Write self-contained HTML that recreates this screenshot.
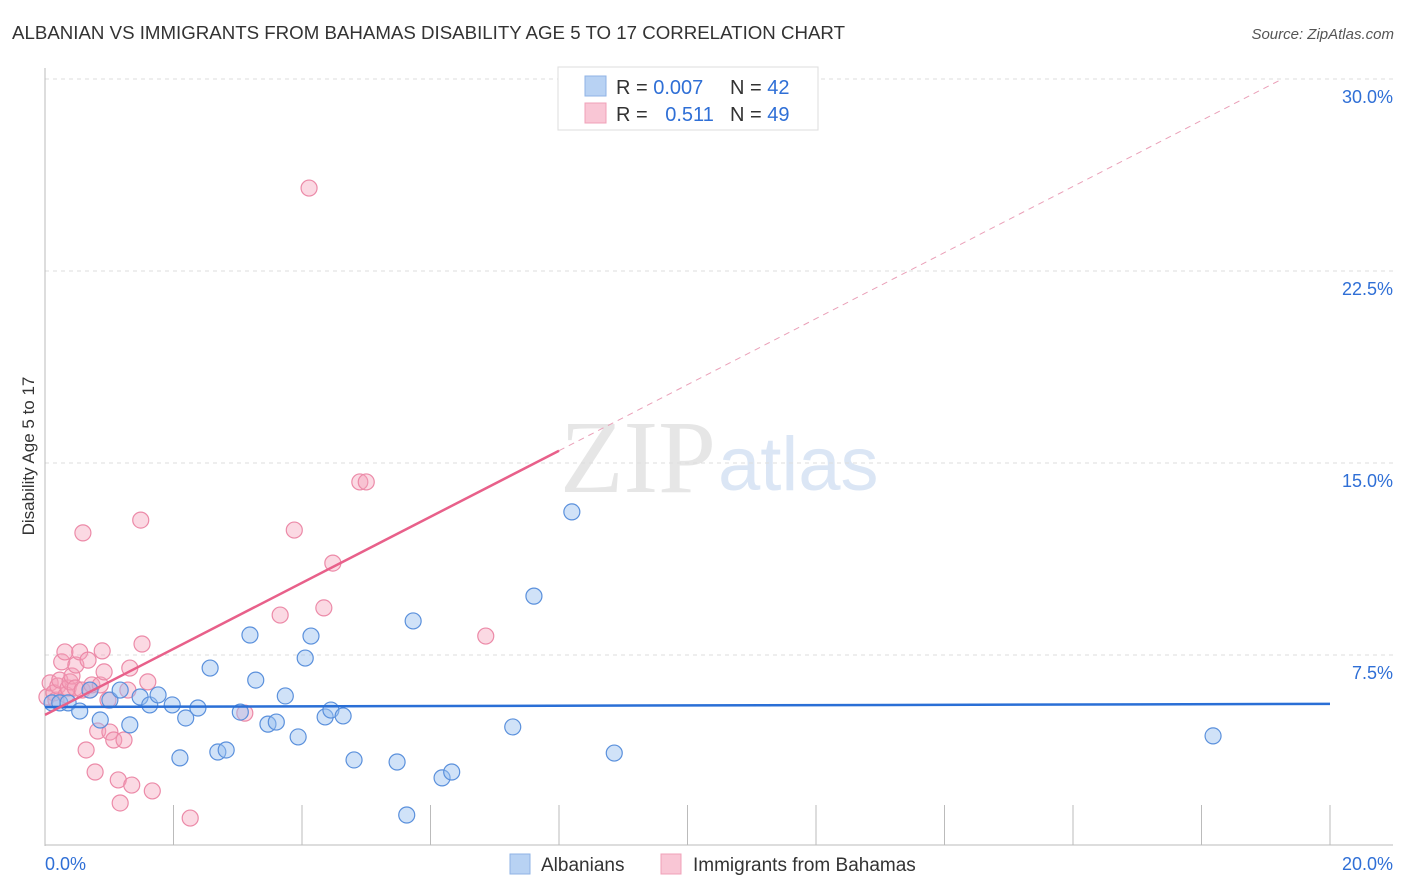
<!DOCTYPE html>
<html><head><meta charset="utf-8"><style>
body{margin:0;background:#fff;font-family:"Liberation Sans",sans-serif;}
#wrap{position:relative;width:1406px;height:892px;overflow:hidden;}
</style></head><body>
<div id="wrap">
<svg id="svg" width="1406" height="892" xmlns="http://www.w3.org/2000/svg">
<text x="12" y="39" font-size="18.5" fill="#333" textLength="833" lengthAdjust="spacingAndGlyphs">ALBANIAN VS IMMIGRANTS FROM BAHAMAS DISABILITY AGE 5 TO 17 CORRELATION CHART</text>
<text x="1394" y="39" font-size="15" fill="#555" font-style="italic" text-anchor="end">Source: ZipAtlas.com</text>
<text x="716" y="492" font-size="104" fill="#e6e6e6" text-anchor="end" font-family="Liberation Serif">ZIP</text>
<text x="718" y="490" font-size="76" fill="#dbe6f5">atlas</text>
<text transform="translate(34,456) rotate(-90)" font-size="17" fill="#333" text-anchor="middle">Disability Age 5 to 17</text>
<g id="grid"></g><g id="marks"></g>
<g>
<rect x="558" y="67" width="260" height="63" fill="#fff" stroke="#ddd"/>
<rect x="585" y="76" width="21" height="20" fill="#b8d2f3" stroke="#8fb3e6"/>
<rect x="585" y="103" width="21" height="20" fill="#f9c6d5" stroke="#f0a0b8"/>
<text x="616" y="94" font-size="20" fill="#333">R = <tspan fill="#2f6fd6">0.007</tspan></text>
<text x="730" y="94" font-size="20" fill="#333">N = <tspan fill="#2f6fd6">42</tspan></text>
<text x="616" y="121" font-size="20" fill="#333">R = <tspan fill="#2f6fd6" dx="12">0.511</tspan></text>
<text x="730" y="121" font-size="20" fill="#333">N = <tspan fill="#2f6fd6">49</tspan></text>
</g>
<g>
<rect x="510" y="854" width="20" height="20" fill="#b8d2f3" stroke="#8fb3e6"/>
<text x="541" y="871" font-size="19" fill="#333">Albanians</text></g>
<g>
<rect x="661" y="854" width="20" height="20" fill="#f9c6d5" stroke="#f0a0b8"/>
<text x="693" y="871" font-size="19" fill="#333">Immigrants from Bahamas</text></g>
</svg></div>
<script>
const yTicks=[7.5,15,22.5,30];
const yTickLabels=["7.5%","15.0%","22.5%","30.0%"];
const xTickVals=[0,2,4,6,8,10,12,14,16,18,20];
const xEndLabels=["0.0%","20.0%"];
const blueX=[0.11,0.23,0.36,0.54,0.70,0.86,1.01,1.17,1.32,1.48,1.63,1.76,1.98,2.10,2.19,2.38,2.57,2.69,2.82,3.04,3.19,3.28,3.47,3.60,3.74,3.94,4.05,4.14,4.36,4.45,4.64,4.81,5.48,5.63,5.73,6.18,6.33,7.28,7.61,8.20,8.86,18.18];
const blueY=[5.63,5.63,5.63,5.31,6.13,4.96,5.74,6.13,4.77,5.86,5.55,5.94,5.55,3.48,5.04,5.43,6.99,3.71,3.79,5.27,8.28,6.52,4.80,4.88,5.90,4.30,7.38,8.24,5.08,5.35,5.12,3.40,3.32,1.25,8.83,2.70,2.93,4.69,9.80,13.09,3.67,4.34];
const pinkX=[0.03,0.08,0.14,0.17,0.20,0.23,0.26,0.31,0.33,0.36,0.39,0.42,0.47,0.48,0.54,0.58,0.59,0.64,0.67,0.70,0.73,0.78,0.82,0.86,0.89,0.92,0.98,1.01,1.07,1.14,1.17,1.23,1.29,1.32,1.35,1.49,1.51,1.60,1.67,2.26,3.11,3.66,3.88,4.11,4.34,4.48,4.90,5.00,6.86];
const pinkY=[5.86,6.41,6.02,5.74,6.29,6.52,7.23,7.62,5.94,6.21,6.45,6.68,6.21,7.11,7.62,6.13,12.27,3.79,7.30,6.13,6.33,2.93,4.53,6.33,7.66,6.84,5.74,4.49,4.18,2.62,1.72,4.18,6.13,6.99,2.42,12.77,7.93,6.45,2.19,1.13,5.23,9.06,12.38,25.74,9.34,11.09,14.26,14.26,8.24];
const blueTrend=[5.47,5.59];
const pinkTrend=[5.16,1.29];
const NS="http://www.w3.org/2000/svg";
const X=v=>45+v/20*1285, Y=v=>847-v/30*768;
function mk(t,a,p){const e=document.createElementNS(NS,t);for(const k in a)e.setAttribute(k,a[k]);p.appendChild(e);return e;}
const g=document.getElementById('grid'),m=document.getElementById('marks');
yTicks.forEach((v,i)=>{
 const l=mk('line',{x1:45,x2:1393,y1:Y(v),y2:Y(v),stroke:'#ddd','stroke-dasharray':'4,4'},g);
 
 
 const t=mk('text',{x:1393,y:Y(v)+24,'font-size':18,fill:'#2f6fd6','text-anchor':'end'},g);t.textContent=yTickLabels[i];
 
 
});
mk('line',{x1:45,x2:45,y1:68,y2:846,stroke:'#bbb'},g);
mk('line',{x1:45,x2:1393,y1:845,y2:845,stroke:'#bbb'},g);
xTickVals.forEach(v=>{const l=mk('line',{x1:X(v),x2:X(v),y1:805,y2:845,stroke:'#bbb'},g);
 
 });
[[0,'start',45],[20,'end',1393]].forEach((a,i)=>{const t=mk('text',{x:a[2],y:870,'font-size':18,fill:'#2f6fd6','text-anchor':a[1]},g);t.textContent=xEndLabels[i];
 
 });
function dots(xs,ys,fill,stroke,name){xs.forEach((x,i)=>{const c=mk('circle',{cx:X(x),cy:Y(ys[i]),r:8,fill:fill,stroke:stroke,'stroke-width':1.2},m);
 
 });}
dots(pinkX,pinkY,'rgba(245,160,185,0.4)','#ec8aa8','bahamas-point');
dots(blueX,blueY,'rgba(150,190,240,0.45)','#5a90dc','albanian-point');
const bl=mk('line',{x1:X(0),y1:Y(blueTrend[0]),x2:X(20),y2:Y(blueTrend[1]),stroke:'#2a6fd6','stroke-width':2.5},m);


const pe=(30-pinkTrend[0])/pinkTrend[1];
const pd=mk('line',{x1:X(8),y1:Y(pinkTrend[0]+8*pinkTrend[1]),x2:X(pe),y2:Y(30),stroke:'#eaa0b8','stroke-width':1,'stroke-dasharray':'6,5'},m);


const ps=mk('line',{x1:X(0),y1:Y(pinkTrend[0]),x2:X(8),y2:Y(pinkTrend[0]+8*pinkTrend[1]),stroke:'#e8608a','stroke-width':2.5},m);


</script>
</body></html>
